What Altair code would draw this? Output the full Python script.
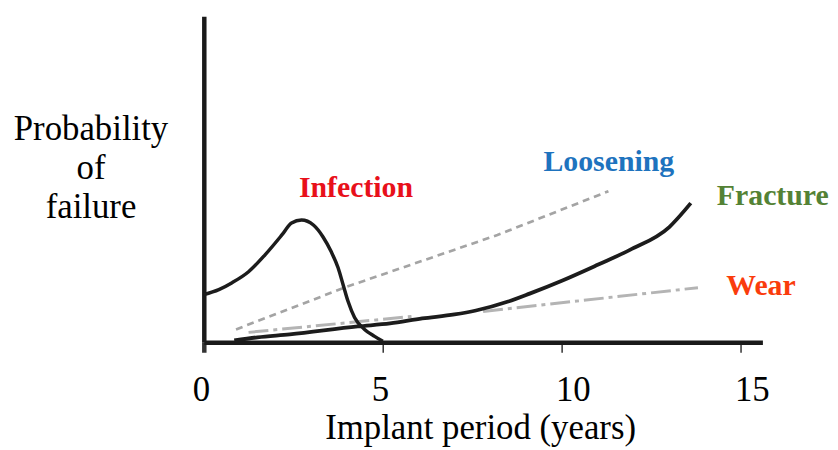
import altair as alt
import pandas as pd

# ---- data (x in years, y in arbitrary probability units) ----
inf_years = [0.0, 0.42, 0.79, 1.25, 1.71, 2.18, 2.45, 2.73, 3.06, 3.33, 3.56, 3.75, 3.89,
             4.03, 4.21, 4.49, 4.77, 5.0]
inf_vals = [48, 53, 60, 71, 88, 108, 120, 123, 118, 106, 91, 75, 58, 41, 25, 13, 6, 1]

frac_years = [0.85, 1.5, 2.4, 4.3, 5.2, 6.1, 7.0, 7.6, 8.5, 9.1, 10.0, 11.0, 11.9, 13.0, 13.6]
frac_vals = [2, 5, 8, 16, 19, 24, 28, 32, 41, 49, 62, 78, 93, 116, 140]

loos_years = [0.9, 4.0, 8.2, 11.3]
loos_vals = [13, 56, 108, 152]

wear_years = [1.25, 5.8, 7.8, 13.8]
wear_vals = [10, 26, 31, 55]
wear_segs = [1, 1, 2, 2]

label_names = ["Infection", "Loosening", "Fracture", "Wear"]
label_years = [4.25, 11.31, 15.89, 15.56]
label_vals = [146, 172, 138, 48]
label_colors = ["#e8101a", "#1e73be", "#548235", "#fa3c0c"]

tick_values = [0, 5, 10, 15]

inf_df = pd.DataFrame({"year": inf_years, "p": inf_vals})
frac_df = pd.DataFrame({"year": frac_years, "p": frac_vals})
loos_df = pd.DataFrame({"year": loos_years, "p": loos_vals})
wear_df = pd.DataFrame({"year": wear_years, "p": wear_vals, "seg": wear_segs})
lab_df = pd.DataFrame({"name": label_names, "year": label_years, "p": label_vals,
                       "color": label_colors})

SERIF = "Liberation Serif"

xscale = alt.Scale(domain=[0, 15.6], nice=False, zero=False)
yscale = alt.Scale(domain=[0, 328], nice=False, zero=False)

xaxis = alt.Axis(
    values=tick_values, format="d", grid=False,
    domain=True, domainColor="#1a1a1a", domainWidth=4.5,
    ticks=True, tickColor="#333333", tickSize=10,
    tickWidth={"condition": {"test": "datum.value === 0", "value": 4.5}, "value": 1.5},
    labelFont=SERIF, labelFontSize=35, labelColor="black", labelPadding=21,
    labelFlush=False,
    labelOffset={"condition": {"test": "datum.value >= 10", "value": 11}, "value": -3},
    title="Implant period (years)", titleFont=SERIF, titleFontSize=35,
    titleFontWeight="normal", titleColor="black", titleAlign="center",
    titleBaseline="alphabetic", titleX=278, titleY=97,
)
yaxis = alt.Axis(
    grid=False, ticks=False, labels=False,
    domain=True, domainColor="#1a1a1a", domainWidth=4.5,
    title=["Probability", "of", "failure"], titleFont=SERIF, titleFontSize=35,
    titleFontWeight="normal", titleColor="black", titleAngle=0,
    titleAlign="center", titleBaseline="alphabetic",
    titleX=-114, titleY=124, titleLineHeight=39,
)

base_x = alt.X("year:Q", scale=xscale, axis=xaxis)
base_y = alt.Y("p:Q", scale=yscale, axis=yaxis)

loos = alt.Chart(loos_df).mark_line(
    color="#a4a4a4", strokeWidth=2.7, strokeDash=[7, 5]
).encode(x=base_x, y=base_y)

wear = alt.Chart(wear_df).mark_line(
    color="#b4b4b4", strokeWidth=3, strokeDash=[20, 5, 4, 5]
).encode(x="year:Q", y="p:Q", detail="seg:N")

inf = alt.Chart(inf_df).mark_line(
    color="#1c1c1c", strokeWidth=3.5, interpolate="monotone"
).encode(x="year:Q", y="p:Q")

frac = alt.Chart(frac_df).mark_line(
    color="#1c1c1c", strokeWidth=3.8, interpolate="monotone"
).encode(x="year:Q", y="p:Q")

labels = alt.Chart(lab_df).mark_text(
    font=SERIF, fontSize=30, fontWeight="bold", align="center", baseline="alphabetic"
).encode(x="year:Q", y="p:Q", text="name:N",
         color=alt.Color("color:N", scale=None))

chart = alt.layer(loos, wear, inf, frac, labels).properties(
    width=562, height=328,
    background="white",
    autosize=alt.AutoSizeParams(type="none"),
    padding={"left": 197, "top": 7, "right": 68, "bottom": 109},
).configure_view(strokeWidth=0)

chart.save("out.html", embed_options={"renderer": "svg", "actions": False})
